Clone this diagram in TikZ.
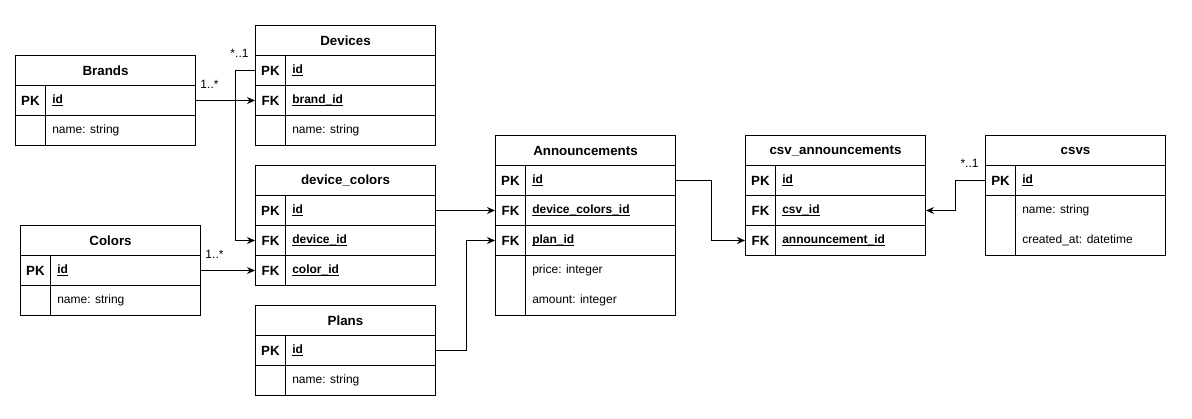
\documentclass[tikz,border=0pt]{standalone}
\usepackage{fontspec}
\setmainfont{Liberation Sans}
\usepackage{tikz}
\usetikzlibrary{arrows.meta,positioning}

% underlined key column name
\newcommand\keyname[1]{\setbox0\hbox{\bfseries #1}\rlap{\rule[-2.1pt]{\wd0}{0.7pt}}\box0}

\tikzset{
  head/.style={draw, line width=0.75pt, minimum width=135pt, minimum height=22.5pt,
               inner sep=0pt, anchor=north west, font=\bfseries},
  row/.style={draw, line width=0.75pt, minimum width=135pt, minimum height=22.5pt,
              inner sep=0pt, anchor=north west},
  keycell/.style={draw, line width=0.75pt, minimum width=22.5pt, minimum height=22.5pt,
                  inner sep=0pt, anchor=north west, font=\bfseries},
  fld/.style={anchor=west, inner sep=0pt},
  card/.style={inner sep=0pt},
  fk/.style={line width=0.75pt, -{Stealth[length=6pt, width=5.25pt]}},
}

\begin{document}
\begin{tikzpicture}[x=0.75pt, y=-0.75pt, font=\fontsize{9pt}{11pt}\selectfont]
\useasboundingbox (0,0) rectangle (1192,418);

% --- Brands ---------------------------------------------------------------
\node[head] (brands) at (15,55) {Brands};
\foreach \n/\y/\k/\t in {br-id/85/PK/{\keyname{id}}, br-name/115//{name: string}}{
  \node[row] (\n) at (15,\y) {};
  \node[keycell] at (15,\y) {\k};
  \node[fld] at ([xshift=27.75pt]\n.west) {\t};
}

% --- Devices --------------------------------------------------------------
\node[head] (devices) at (255,25) {Devices};
\foreach \n/\y/\k/\t in {dv-id/55/PK/{\keyname{id}}, dv-brand/85/FK/{\keyname{brand\_id}},
                         dv-name/115//{name: string}}{
  \node[row] (\n) at (255,\y) {};
  \node[keycell] at (255,\y) {\k};
  \node[fld] at ([xshift=27.75pt]\n.west) {\t};
}

% --- device_colors --------------------------------------------------------
\node[head] (devcolors) at (255,165) {device\_colors};
\foreach \n/\y/\k/\t in {dc-id/195/PK/{\keyname{id}}, dc-dev/225/FK/{\keyname{device\_id}},
                         dc-col/255/FK/{\keyname{color\_id}}}{
  \node[row] (\n) at (255,\y) {};
  \node[keycell] at (255,\y) {\k};
  \node[fld] at ([xshift=27.75pt]\n.west) {\t};
}

% --- Colors ---------------------------------------------------------------
\node[head] (colors) at (20,225) {Colors};
\foreach \n/\y/\k/\t in {co-id/255/PK/{\keyname{id}}, co-name/285//{name: string}}{
  \node[row] (\n) at (20,\y) {};
  \node[keycell] at (20,\y) {\k};
  \node[fld] at ([xshift=27.75pt]\n.west) {\t};
}

% --- Plans ----------------------------------------------------------------
\node[head] (plans) at (255,305) {Plans};
\foreach \n/\y/\k/\t in {pl-id/335/PK/{\keyname{id}}, pl-name/365//{name: string}}{
  \node[row] (\n) at (255,\y) {};
  \node[keycell] at (255,\y) {\k};
  \node[fld] at ([xshift=27.75pt]\n.west) {\t};
}

% --- Announcements --------------------------------------------------------
\node[head] (announce) at (495,135) {Announcements};
\foreach \n/\y/\k/\t in {an-id/165/PK/{\keyname{id}}, an-dc/195/FK/{\keyname{device\_colors\_id}},
                         an-plan/225/FK/{\keyname{plan\_id}}}{
  \node[row] (\n) at (495,\y) {};
  \node[keycell] at (495,\y) {\k};
  \node[fld] at ([xshift=27.75pt]\n.west) {\t};
}
\node[row, minimum height=45pt] (an-rest) at (495,255) {};
\node[keycell, minimum height=45pt] at (495,255) {};
\node[fld] (an-price) at (532,270) {price: integer};
\node[fld] (an-amount) at (532,300) {amount: integer};

% --- csv_announcements ----------------------------------------------------
\node[head] (csvann) at (745,135) {csv\_announcements};
\foreach \n/\y/\k/\t in {ca-id/165/PK/{\keyname{id}}, ca-csv/195/FK/{\keyname{csv\_id}},
                         ca-ann/225/FK/{\keyname{announcement\_id}}}{
  \node[row] (\n) at (745,\y) {};
  \node[keycell] at (745,\y) {\k};
  \node[fld] at ([xshift=27.75pt]\n.west) {\t};
}

% --- csvs -----------------------------------------------------------------
\node[head] (csvs) at (985,135) {csvs};
\node[row] (cv-id) at (985,165) {};
\node[keycell] at (985,165) {PK};
\node[fld] at ([xshift=27.75pt]cv-id.west) {\keyname{id}};
\node[row, minimum height=45pt] (cv-rest) at (985,195) {};
\node[keycell, minimum height=45pt] at (985,195) {};
\node[fld] (cv-name) at (1022,210) {name: string};
\node[fld] (cv-created) at (1022,240) {created\_at: datetime};

% --- relations ------------------------------------------------------------
\draw[fk] (br-id.east) -- (dv-brand.west);
\draw[fk] (dv-id.west) -- ++(-20,0) |- (dc-dev.west);
\draw[fk] (co-id.east) -- (dc-col.west);
\draw[fk] (dc-id.east) -- (an-dc.west);
\draw[fk] (pl-id.east) -- ++(30,0) |- (an-plan.west);
\draw[fk] (an-id.east) -- ++(35,0) |- (ca-ann.west);
\draw[fk] (cv-id.west) -- ++(-30,0) |- (ca-csv.east);

% --- cardinalities --------------------------------------------------------
\node[card] (card-br) at (209.5,84) {1..*};
\node[card] (card-dv) at (239.5,53) {*..1};
\node[card] (card-co) at (214.5,254) {1..*};
\node[card] (card-cv) at (969.5,163) {*..1};

\end{tikzpicture}
\end{document}
